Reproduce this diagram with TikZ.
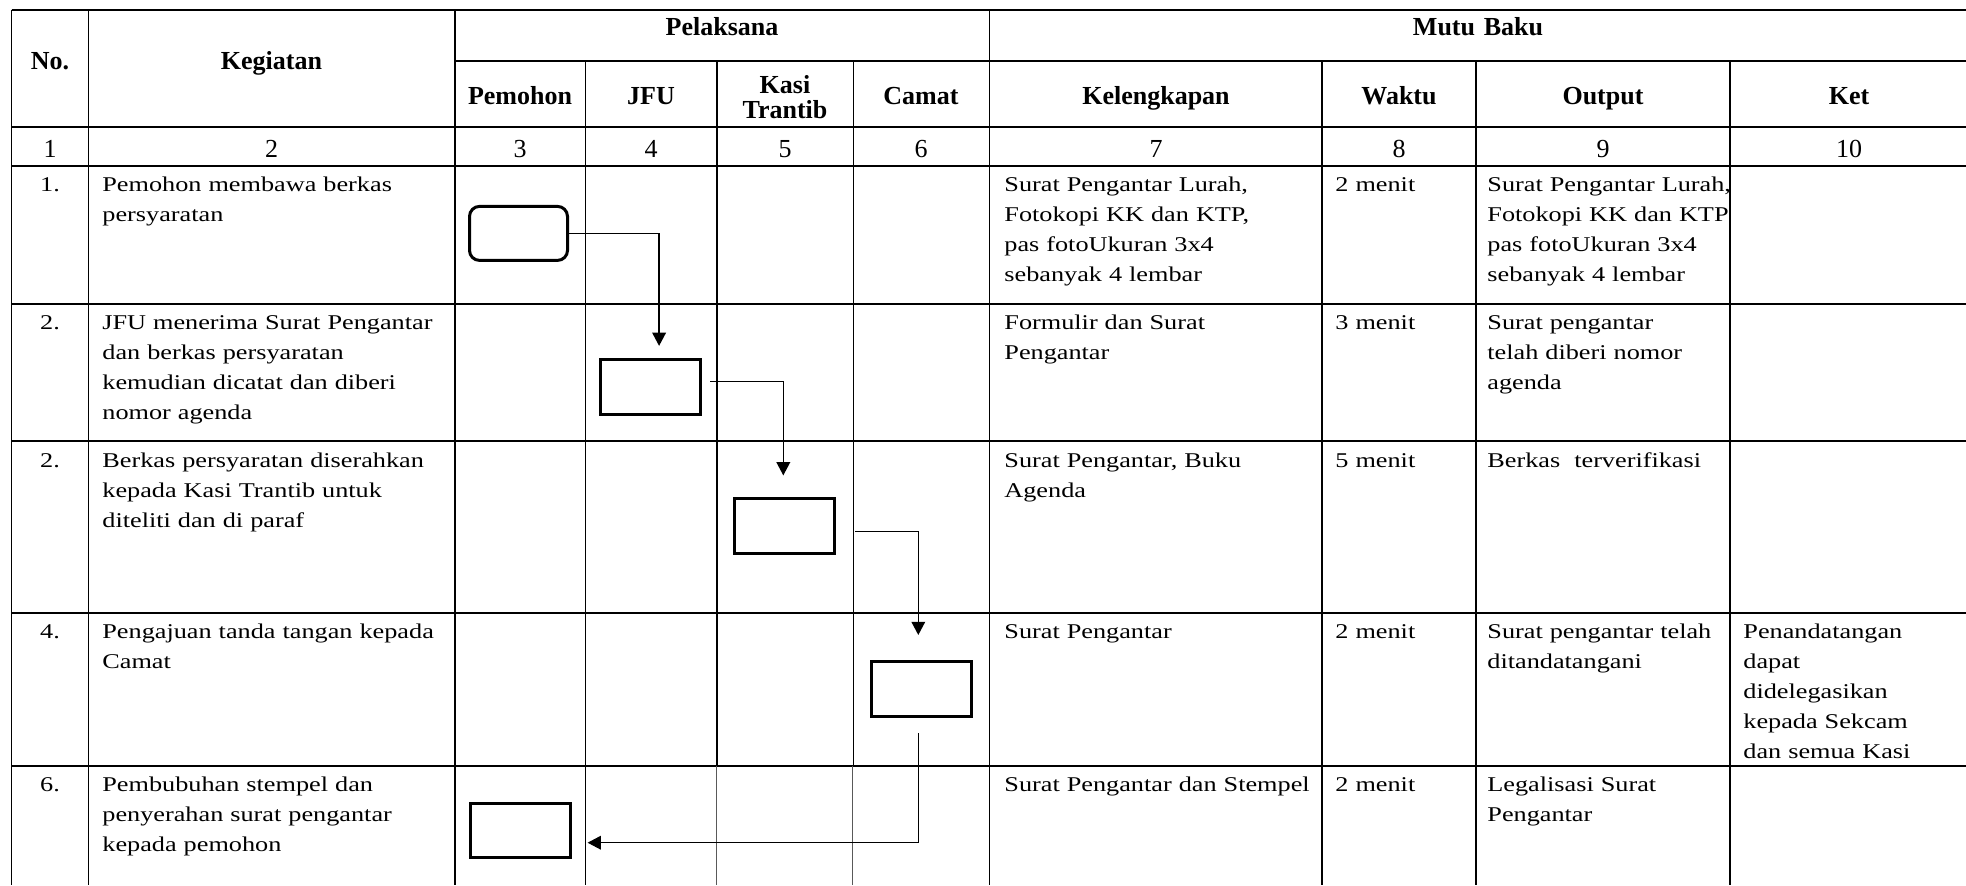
\documentclass[tikz,border=0pt]{standalone}
\usepackage{fontspec}
\setmainfont{Liberation Serif}
\newfontfamily\cellfont{Liberation Serif}[FakeStretch=1.25]
\usepackage{tikz}
\usetikzlibrary{arrows.meta,positioning}

\begin{document}
\begin{tikzpicture}[
    x=0.5pt,y=-0.5pt,
    hline/.style={line width=1pt},
    vline/.style={line width=0.8pt},
    thinline/.style={line width=0.5pt,black!65},
    head/.style={font=\bfseries\fontsize{13}{12.4}\selectfont,anchor=base,inner sep=0pt,align=center,text width=62pt},
    num/.style={font=\fontsize{13}{15}\selectfont,anchor=base,inner sep=0pt},
    cell/.style={font=\cellfont\fontsize{10.5}{15}\selectfont,anchor=base west,inner sep=0pt,align=left,text width=260pt},
    box/.style={rectangle,draw,line width=1.5pt,minimum width=50pt,minimum height=27.5pt,inner sep=0pt},
    arr/.style={-{Triangle[length=6.6pt,width=6.8pt]},line width=0.7pt}
  ]
    \useasboundingbox (0,0) rectangle (1966,885);

    % garis tabel
    \draw[hline] (11.5,9.5) -- (1966,9.5);
    \draw[hline] (455,61) -- (1966,61);
    \foreach \y in {126.5,165.5,304,441,613,765.5}
      \draw[hline] (11.5,\y) -- (1966,\y);
    \foreach \x in {11.5,88.5,455,989.5}
      \draw[vline] (\x,9.5) -- (\x,885);
    \foreach \x in {585.5,1322,1476,1730}
      \draw[vline] (\x,61) -- (\x,885);
    \draw[vline] (717,61) -- (717,765.5);
    \draw[vline] (853.5,61) -- (853.5,765.5);
    \draw[thinline] (716,765.5) -- (716,885);
    \draw[thinline] (852.5,765.5) -- (852.5,885);

    % kepala tabel
    \node[head] (hno) at (50,69) {No.};
    \node[head] (hkeg) at (271.5,69) {Kegiatan};
    \node[head,text width=200pt] (hpel) at (722,35) {Pelaksana};
    \node[head,text width=200pt] (hmutu) at (1478,35) {Mutu Baku};
    \node[head] (hpem) at (520,104) {Pemohon};
    \node[head] (hjfu) at (651,104) {JFU};
    \node[head] (hkasi) at (785,93.5) {Kasi\\Trantib};
    \node[head] (hcamat) at (921,104) {Camat};
    \node[head,text width=120pt] (hkel) at (1156,104) {Kelengkapan};
    \node[head] (hwkt) at (1399,104) {Waktu};
    \node[head] (hout) at (1603,104) {Output};
    \node[head] (hket) at (1849,104) {Ket};

    % nomor kolom
    \node[num] (n1) at (50,157) {1};
    \node[num] (n2) at (271.5,157) {2};
    \node[num] (n3) at (520,157) {3};
    \node[num] (n4) at (651,157) {4};
    \node[num] (n5) at (785,157) {5};
    \node[num] (n6) at (921,157) {6};
    \node[num] (n7) at (1156,157) {7};
    \node[num] (n8) at (1399,157) {8};
    \node[num] (n9) at (1603,157) {9};
    \node[num] (n10) at (1849,157) {10};

    % baris 1
    \node[cell,text width=20pt,align=center,anchor=base] (no1) at (50,191.5) {1.};
    \node[cell] (keg1) at (102,191.5) {Pemohon membawa berkas\\persyaratan};
    \node[cell] (kel1) at (1004,191.5) {Surat Pengantar Lurah,\\Fotokopi KK dan KTP,\\pas fotoUkuran 3x4\\sebanyak 4 lembar};
    \node[cell] (wkt1) at (1335,191.5) {2 menit};
    \node[cell] (out1) at (1487,191.5) {Surat Pengantar Lurah,\\Fotokopi KK dan KTP\\pas fotoUkuran 3x4\\sebanyak 4 lembar};

    % baris 2
    \node[cell,text width=20pt,align=center,anchor=base] (no2) at (50,329) {2.};
    \node[cell] (keg2) at (102,329) {JFU menerima Surat Pengantar\\dan berkas persyaratan\\kemudian dicatat dan diberi\\nomor agenda};
    \node[cell] (kel2) at (1004,329) {Formulir dan Surat\\Pengantar};
    \node[cell] (wkt2) at (1335,329) {3 menit};
    \node[cell] (out2) at (1487,329) {Surat pengantar\\telah diberi nomor\\agenda};

    % baris 3
    \node[cell,text width=20pt,align=center,anchor=base] (no3) at (50,467) {2.};
    \node[cell] (keg3) at (102,467) {Berkas persyaratan diserahkan\\kepada Kasi Trantib untuk\\diteliti dan di paraf};
    \node[cell] (kel3) at (1004,467) {Surat Pengantar, Buku\\Agenda};
    \node[cell] (wkt3) at (1335,467) {5 menit};
    \node[cell] (out3) at (1487,467) {Berkas\ \ terverifikasi};

    % baris 4
    \node[cell,text width=20pt,align=center,anchor=base] (no4) at (50,638) {4.};
    \node[cell] (keg4) at (102,638) {Pengajuan tanda tangan kepada\\Camat};
    \node[cell] (kel4) at (1004,638) {Surat Pengantar};
    \node[cell] (wkt4) at (1335,638) {2 menit};
    \node[cell] (out4) at (1487,638) {Surat pengantar telah\\ditandatangani};
    \node[cell,text width=110pt] (ket4) at (1743,638) {Penandatangan\\dapat\\didelegasikan\\kepada Sekcam\\dan semua Kasi};

    % baris 5
    \node[cell,text width=20pt,align=center,anchor=base] (no5) at (50,791) {6.};
    \node[cell] (keg5) at (102,791) {Pembubuhan stempel dan\\penyerahan surat pengantar\\kepada pemohon};
    \node[cell] (kel5) at (1004,791) {Surat Pengantar dan Stempel};
    \node[cell] (wkt5) at (1335,791) {2 menit};
    \node[cell] (out5) at (1487,791) {Legalisasi Surat\\Pengantar};

    % alur
    \node[box,rounded corners=5pt,minimum width=49pt,minimum height=27pt] (mulai) at (518.5,233.4) {};
    \node[box] (catat) at (650.3,386.9) {};
    \node[box] (teliti) at (784.2,526.4) {};
    \node[box] (ttd) at (921.2,689.2) {};
    \node[box,minimum height=27pt] (serah) at (520.5,830.2) {};
    \draw[arr,shorten >=6pt] (mulai.east) -| ([xshift=4.4pt]catat.north);
    \draw[arr,shorten <=4.2pt,shorten >=11pt] ([yshift=2.6pt]catat.east) -| ([xshift=-0.45pt]teliti.north);
    \draw[arr,shorten <=9.7pt,shorten >=12.6pt] ([yshift=-2.65pt]teliti.east) -| ([xshift=-1.45pt]ttd.north);
    \draw[arr,shorten <=7.5pt,shorten >=7.8pt] ([xshift=-1.45pt]ttd.south) |- ([yshift=-6.25pt]serah.east);
  \end{tikzpicture}
\end{document}
